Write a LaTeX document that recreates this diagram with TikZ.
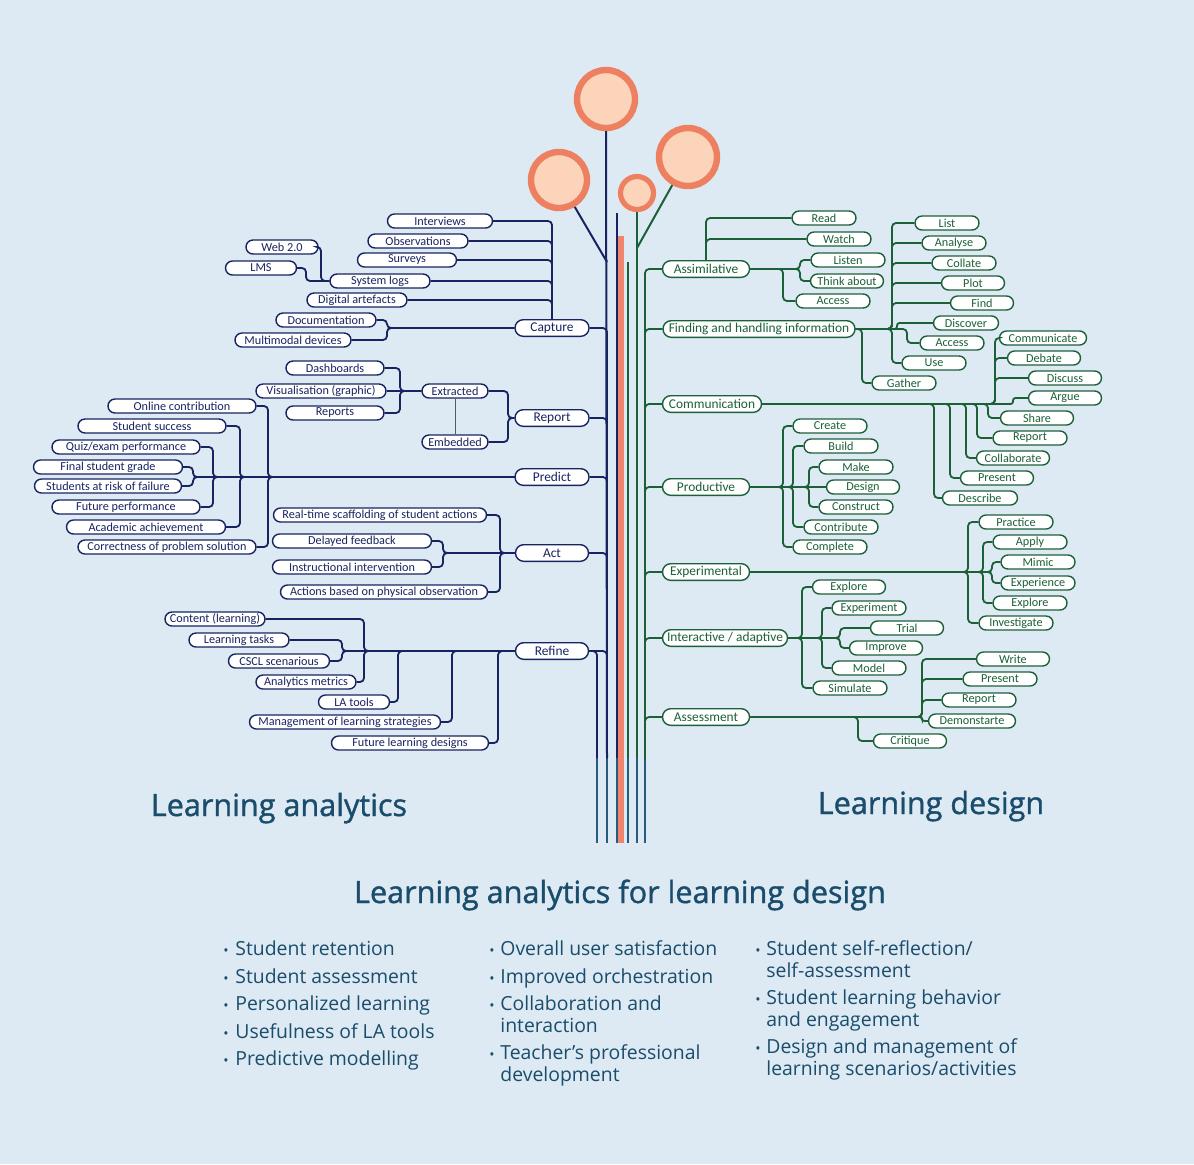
\documentclass[tikz,border=0pt]{standalone}
\usepackage{fontspec}
\setmainfont{Open Sans}
\newfontfamily\boxfont{Carlito}
\newfontfamily\ttlfont{Open Sans}[FakeBold=1.2]
\definecolor{bgBlue}{RGB}{221,234,243}
\definecolor{laNavy}{RGB}{24,36,96}
\definecolor{ldGreen}{RGB}{28,96,56}
\definecolor{stemTeal}{RGB}{40,90,125}
\definecolor{trunkOrange}{RGB}{240,132,108}
\definecolor{budEdge}{RGB}{238,128,98}
\definecolor{budFill}{RGB}{251,212,185}
\definecolor{titleBlue}{RGB}{26,76,108}
\begin{document}
\begin{tikzpicture}[x=0.5pt,y=-0.5pt,
  nv/.style={draw=laNavy, fill=white, line width=0.7pt, rounded corners=3.5pt, inner sep=0pt,
    minimum height=7pt, minimum width=#1, text=laNavy, font=\boxfont\fontsize{6.1}{7}\selectfont},
  nvm/.style={nv=#1, minimum height=8.3pt, rounded corners=4.1pt, font=\boxfont\fontsize{6.7}{8}\selectfont},
  gr/.style={nv=#1, draw=ldGreen, text=ldGreen},
  grm/.style={nvm=#1, draw=ldGreen, text=ldGreen},
  cnav/.style={draw=laNavy, line width=0.9pt, rounded corners=2pt},
  cgrn/.style={draw=ldGreen, line width=0.9pt, rounded corners=2pt},
  tight/.style={rounded corners=1.2pt},
  bud/.style={circle, draw=budEdge, fill=budFill, line width=3.2pt, inner sep=0pt},
  ttl/.style={font=\ttlfont\fontsize{15.3}{18}\selectfont, text=titleBlue, anchor=base, inner sep=0pt},
  bul/.style={font=\fontsize{9.7}{11}\selectfont, text=titleBlue, anchor=base west, inner sep=0pt},
  dotb/.style={font=\fontsize{7}{8}\selectfont, text=titleBlue, anchor=base, inner sep=0pt}]
\fill[bgBlue] (0,0) rectangle (1194,1164);
\useasboundingbox (0,0) rectangle (1194,1164);

\node[bud, minimum size=29pt] (budTop) at (606,99) {};
\node[bud, minimum size=28pt] (budLeft) at (559,180) {};
\node[bud, minimum size=16.5pt, line width=2.6pt] (budSmall) at (637,193) {};
\node[bud, minimum size=29pt] (budRight) at (688,157) {};
\coordinate (tL) at (607,758); \coordinate (tL2) at (597,758);
\coordinate (tMtop) at (617,213); \coordinate (tM) at (617,758);
\coordinate (gAtop) at (628,262); \coordinate (gA) at (628,758);
\coordinate (gB) at (637,758); \coordinate (tR) at (645,758);
\coordinate (kL) at (607,262); \coordinate (kR) at (637,248);
\draw[laNavy, line width=1pt] (budTop) -- (tL);
\draw[laNavy, line width=1pt] (budLeft) -- (kL);
\draw[laNavy, line width=1pt] (tMtop) -- (tM);
\fill[trunkOrange] (618,236) rectangle (624,843);
\draw[ldGreen, line width=1pt] (gAtop) -- (gA);
\draw[ldGreen, line width=1pt] (budSmall) -- (gB);
\draw[ldGreen, line width=1pt] (budRight) -- (kR);
\foreach \x in {597,607,617,628,637,645} \draw[stemTeal, line width=1pt] (\x,758) -- (\x,843);

\node[nv=52.5pt] (intv) at (440,221) {Interviews};
\node[nv=50pt] (obs) at (418,241) {Observations};
\node[nv=49.5pt] (surv) at (407,260) {Surveys};
\node[nv=50pt] (syslog) at (380,281) {System logs};
\node[nv=36pt] (web) at (282,247) {Web 2.0};
\node[nv=35.5pt] (lms) at (261,268) {LMS};
\node[nv=50pt] (digi) at (357,300) {Digital artefacts};
\node[nv=50pt] (docu) at (326,320) {Documentation};
\node[nv=58pt] (multi) at (293,340) {Multimodal devices};
\node[nvm=37pt] (capture) at (552,328) {Capture};
\coordinate (jWeb) at (321,281); \coordinate (jLms) at (306,281); \coordinate (jDoc) at (387,328);
\foreach \n in {intv,obs,surv,syslog,digi} \draw[cnav] (\n.east) -| (capture.north);
\draw[cnav] (web.east) -| (jWeb) -- (syslog.west);
\draw[cnav] (lms.east) -| (jLms) -- (syslog.west);
\draw[cnav] (docu.east) -| (jDoc) -- (capture.west);
\draw[cnav] (multi.east) -| (jDoc) -- (capture.west);

\node[nv=49pt] (dash) at (335,368) {Dashboards};
\node[nv=65pt] (visu) at (321,391) {Visualisation (graphic)};
\node[nv=49pt] (reps) at (335,413) {Reports};
\node[nv=33pt] (extr) at (455,391) {Extracted};
\node[nv=33pt] (embd) at (455,442) {Embedded};
\node[nvm=37pt] (report) at (552,418) {Report};
\coordinate (jExt) at (400,391); \coordinate (jRep) at (508,418);
\draw[cnav] (dash.east) -| (jExt) -- (extr.west);
\draw[cnav] (reps.east) -| (jExt) -- (extr.west);
\draw[cnav] (visu.east) -- (extr.west);
\draw[cnav] (extr.east) -| (jRep) -- (report.west);
\draw[cnav] (embd.east) -| (jRep) -- (report.west);
\draw[gray!70!black, line width=0.5pt] (extr.south) -- (embd.north);

\node[nv=74pt] (onl) at (182,406) {Online contribution};
\node[nv=74pt] (succ) at (152,426) {Student success};
\node[nv=74pt] (quiz) at (126,447) {Quiz/exam performance};
\node[nv=74.5pt] (fing) at (108,467) {Final student grade};
\node[nv=73.5pt] (risk) at (108,486) {Students at risk of failure};
\node[nv=74pt] (futp) at (126,507) {Future performance};
\node[nv=79.5pt] (acad) at (146,527) {Academic achievement};
\node[nv=89pt] (corr) at (167,547) {Correctness of problem solution};
\node[nvm=37pt] (predict) at (552,477) {Predict};
\coordinate (jPa) at (193,477); \coordinate (jPb) at (213,477);
\coordinate (jPc) at (240,477); \coordinate (jPd) at (268,477);
\foreach \n/\j in {fing/jPa,risk/jPa,quiz/jPb,futp/jPb,succ/jPc,acad/jPc,onl/jPd,corr/jPd}
  \draw[cnav] (\n.east) -| (\j) -- (predict.west);

\node[nv=106.5pt] (rts) at (380,515) {Real-time scaffolding of student actions};
\node[nv=79.5pt] (delay) at (352,541) {Delayed feedback};
\node[nv=79.5pt] (instr) at (352,567) {Instructional intervention};
\node[nv=103.5pt] (phys) at (384,592) {Actions based on physical observation};
\node[nvm=36.5pt] (act) at (552,553) {Act};
\coordinate (jAa) at (443,553); \coordinate (jAb) at (500,553);
\foreach \n/\j in {delay/jAa,instr/jAa,rts/jAb,phys/jAb}
  \draw[cnav] (\n.east) -| (\j) -- (act.west);

\node[nv=50pt] (cont) at (215,619) {Content (learning)};
\node[nv=50pt] (ltask) at (239,640) {Learning tasks};
\node[nv=50.5pt] (cscl) at (279,661) {CSCL scenarious};
\node[nv=50pt] (ametr) at (306,682) {Analytics metrics};
\node[nv=35.5pt] (latool) at (354,702) {LA tools};
\node[nv=95.5pt] (mgmt) at (345,722) {Management of learning strategies};
\node[nv=78.5pt] (futd) at (410,743) {Future learning designs};
\node[nvm=36.5pt] (refine) at (552,651) {Refine};
\coordinate (jRa) at (342,651); \coordinate (jRb) at (364,651); \coordinate (jRc) at (398,651);
\coordinate (jRd) at (452,651); \coordinate (jRe) at (498,651);
\foreach \n/\j in {ltask/jRa,cscl/jRa,cont/jRb,ametr/jRb,latool/jRc,mgmt/jRd,futd/jRe}
  \draw[cnav] (\n.east) -| (\j) -- (refine.west);

\foreach \n in {capture,report,predict,act,refine} \draw[cnav] (\n.east) -| (tL);
\draw[cnav] (refine.east) -| (tL2);

\node[grm=43.5pt] (assim) at (706,269) {Assimilative};
\node[gr=32pt] (read) at (824,218) {Read};
\node[gr=32pt] (watch) at (839,239) {Watch};
\node[gr=37pt] (listen) at (848,260) {Listen};
\node[gr=36.5pt] (think) at (847,281) {Think about};
\node[gr=37pt] (accA) at (833,301) {Access};
\coordinate (jSa) at (800,269); \coordinate (jSb) at (783,269);
\draw[cgrn] (assim.north) |- (read.west);
\draw[cgrn] (assim.north) |- (watch.west);
\foreach \n/\j in {listen/jSa,think/jSa,accA/jSb}
  \draw[cgrn] (\n.west) -| (\j) -- (assim.east);

\node[grm=96pt] (findh) at (759,329) {Finding and handling information};
\node[gr=32pt] (list) at (947,223) {List};
\node[gr=32pt] (anal) at (954,243) {Analyse};
\node[gr=32pt] (coll) at (964,263) {Collate};
\node[gr=31.5pt] (plot) at (973,283) {Plot};
\node[gr=31.5pt] (fnd) at (982,303) {Find};
\node[gr=32.5pt] (disc) at (966,323) {Discover};
\node[gr=32pt] (accB) at (952,343) {Access};
\node[gr=32pt] (use) at (934,363) {Use};
\node[gr=32pt] (gath) at (904,383) {Gather};
\coordinate (jFa) at (892,329); \coordinate (jFb) at (897,329);
\coordinate (jFc) at (907,329); \coordinate (jFd) at (862,329);
\foreach \n/\j in {list/jFa,anal/jFa,coll/jFa,plot/jFa,fnd/jFa,accB/jFc,use/jFa,gath/jFd}
  \draw[cgrn] (\n.west) -| (\j) -- (findh.east);
\draw[cgrn, tight] (disc.west) -| (jFb) -- (findh.east);

\node[grm=49.5pt] (comm) at (712,404) {Communication};
\node[gr=43.5pt] (cmc) at (1043,338) {Communicate};
\node[gr=36.5pt] (deb) at (1044,358) {Debate};
\node[gr=36.5pt] (dis) at (1065,378) {Discuss};
\node[gr=36.5pt] (arg) at (1065,398) {Argue};
\node[gr=36.5pt] (shr) at (1037,418) {Share};
\node[gr=37pt] (repB) at (1030,438) {Report};
\node[gr=36.5pt] (colb) at (1013,458) {Collaborate};
\node[gr=36.5pt] (pres) at (997,478) {Present};
\node[gr=37.5pt] (desc) at (980,498) {Describe};
\coordinate (jCa) at (995,404); \coordinate (jCb) at (1013,404); \coordinate (jCc) at (988,404);
\coordinate (jCd) at (977,404); \coordinate (jCe) at (966,404); \coordinate (jCf) at (950,404);
\coordinate (jCg) at (934,404);
\foreach \n/\j in {cmc/jCa,deb/jCa,dis/jCa,shr/jCc,repB/jCd,colb/jCe,pres/jCf,desc/jCg}
  \draw[cgrn] (\n.west) -| (\j) -- (comm.east);
\draw[cgrn, tight] (arg.west) -| (jCb) -- (comm.east);

\node[grm=43.5pt] (prod) at (706,487) {Productive};
\node[gr=37pt] (crea) at (830,426) {Create};
\node[gr=37pt] (bld) at (841,446) {Build};
\node[gr=37pt] (make) at (856,467) {Make};
\node[gr=36.5pt] (desg) at (863,487) {Design};
\node[gr=37pt] (cons) at (856,507) {Construct};
\node[gr=37pt] (ctrb) at (841,527) {Contribute};
\node[gr=37pt] (cmpl) at (830,547) {Complete};
\coordinate (jQa) at (783,487); \coordinate (jQb) at (793,487); \coordinate (jQc) at (809,487);
\foreach \n/\j in {crea/jQa,cmpl/jQa,bld/jQb,ctrb/jQb,make/jQc,cons/jQc}
  \draw[cgrn] (\n.west) -| (\j) -- (prod.east);
\draw[cgrn] (desg.west) -- (prod.east);

\node[grm=43.5pt] (expm) at (706,572) {Experimental};
\node[gr=37pt] (prac) at (1016,522) {Practice};
\node[gr=37pt] (appl) at (1030,542) {Apply};
\node[gr=37pt] (mim) at (1038,562) {Mimic};
\node[gr=37pt] (expc) at (1038,583) {Experience};
\node[gr=37pt] (explB) at (1030,603) {Explore};
\node[gr=37pt] (inv) at (1016,623) {Investigate};
\coordinate (jEa) at (968,572); \coordinate (jEb) at (983,572); \coordinate (jEc) at (992,572);
\foreach \n/\j in {prac/jEa,inv/jEa,appl/jEb,explB/jEb,mim/jEc,expc/jEc}
  \draw[cgrn] (\n.west) -| (\j) -- (expm.east);

\node[grm=62.5pt] (inter) at (725,638) {Interactive / adaptive};
\node[gr=36.5pt] (explA) at (849,587) {Explore};
\node[gr=37pt] (expt) at (869,608) {Experiment};
\node[gr=36.5pt] (tri) at (907,628) {Trial};
\node[gr=36.5pt] (impr) at (886,648) {Improve};
\node[gr=37pt] (mdl) at (869,668) {Model};
\node[gr=37pt] (sim) at (850,688) {Simulate};
\coordinate (jIa) at (802,638); \coordinate (jIb) at (822,638); \coordinate (jIc) at (840,638);
\foreach \n/\j in {explA/jIa,sim/jIa,expt/jIb,mdl/jIb,tri/jIc,impr/jIc}
  \draw[cgrn] (\n.west) -| (\j) -- (inter.east);

\node[grm=43.5pt] (asse) at (706,717) {Assessment};
\node[gr=36.5pt] (wrt) at (1013,659) {Write};
\node[gr=37pt] (prsB) at (1000,679) {Present};
\node[gr=37pt] (repC) at (979,700) {Report};
\node[gr=43.5pt] (demo) at (972,721) {Demonstarte};
\node[gr=36.5pt] (crit) at (910,741) {Critique};
\coordinate (jSsa) at (922,717); \coordinate (jSsc) at (858,717);
\foreach \n/\j in {wrt/jSsa,prsB/jSsa,repC/jSsa,crit/jSsc}
  \draw[cgrn] (\n.west) -| (\j) -- (asse.east);
\draw[cgrn, tight] (demo.west) -| (jSsa) -- (asse.east);

\foreach \n in {assim,findh,comm,prod,expm,inter,asse} \draw[cgrn] (tR) |- (\n.west);

\node[ttl] (laTitle) at (279,816) {Learning analytics};
\node[ttl] (ldTitle) at (931,814) {Learning design};
\node[ttl] (lafldTitle) at (620,903) {Learning analytics for learning design};

\foreach \y/\t [count=\i] in {955/Student retention,983/Student assessment,1010/Personalized learning,
    1038/Usefulness of LA tools,1065/Predictive modelling}
  {\node[dotb] (da\i) at (226,\y) {\textbullet}; \node[bul] (ia\i) at (235,\y) {\t};}
\foreach \y/\t [count=\i] in {955/Overall user satisfaction,983/Improved orchestration,
    1010/Collaboration and,1059/Teacher’s professional}
  {\node[dotb] (db\i) at (492,\y) {\textbullet}; \node[bul] (ib\i) at (500,\y) {\t};}
\node[bul] (ib5) at (500,1032) {interaction};
\node[bul] (ib6) at (500,1081) {development};
\foreach \y/\t [count=\i] in {955/{Student self-reflection/},1004/Student learning behavior,
    1053/Design and management of}
  {\node[dotb] (dc\i) at (758,\y) {\textbullet}; \node[bul] (ic\i) at (766,\y) {\t};}
\node[bul] (ic4) at (766,977) {self-assessment};
\node[bul] (ic5) at (766,1026) {and engagement};
\node[bul] (ic6) at (766,1075) {learning scenarios/activities};
\end{tikzpicture}
\end{document}
